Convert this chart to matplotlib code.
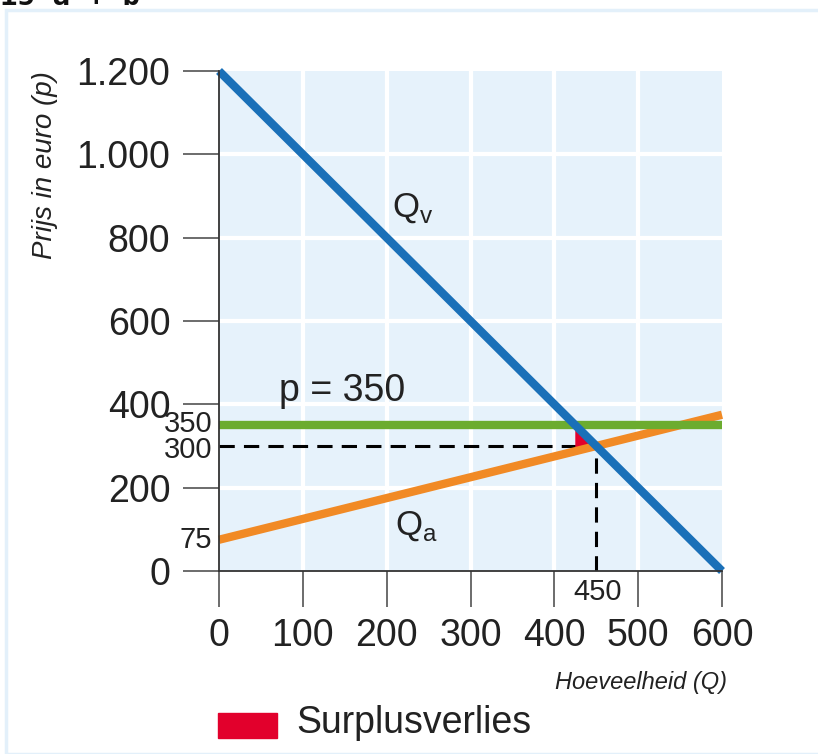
import matplotlib.pyplot as plt
from matplotlib.patches import Rectangle, Polygon

plt.rcParams['font.family'] = ['Liberation Sans', 'DejaVu Sans']

# data
q_ticks = [0, 100, 200, 300, 400, 500, 600]
p_ticks = [0, 200, 400, 600, 800, 1000, 1200]
p_tick_labels = ['0', '200', '400', '600', '800', '1.000', '1.200']

demand_q = [0, 600]
demand_p = [1200, 0]
supply_q = [0, 600]
supply_p = [75, 375]
price_floor = 350
eq_q, eq_p = 450, 300
loss_q = [425, 425, 450]
loss_p = [350, 287.5, 300]

BLUE = '#1a70b8'
GREEN = '#6cac2f'
ORANGE = '#f18a25'
RED = '#e2002c'
TXT = '#222222'

fig = plt.figure(figsize=(8.18, 7.54), dpi=100)
fig.patches.append(Rectangle((6 / 818, 0), 1, 1 - 10 / 754, transform=fig.transFigure,
                             fill=False, edgecolor='#e3f0fa', linewidth=2.5))
fig.text(0.0, 1 - 5 / 754, '15 a + b', fontsize=21, fontweight='bold',
         family='DejaVu Sans Mono', va='baseline', ha='left', color='#111111')

ax = fig.add_axes([219 / 818, 1 - 571 / 754, 503 / 818, 500 / 754])
ax.set_facecolor('#e6f2fb')
ax.set_xlim(0, 600)
ax.set_ylim(0, 1200)

for q in q_ticks[1:-1]:
    ax.axvline(q, color='white', lw=3, zorder=1)
for p in p_ticks[1:-1]:
    ax.axhline(p, color='white', lw=3, zorder=1)

ax.add_patch(Polygon(list(zip(loss_q, loss_p)), closed=True, color=RED, lw=0, zorder=3))

ax.plot([0, eq_q], [eq_p, eq_p], color='black', lw=2.2, dashes=(5, 3), zorder=2)
ax.plot([eq_q, eq_q], [0, eq_p], color='black', lw=2.2, dashes=(5, 3), zorder=2)

ax.plot(supply_q, supply_p, color=ORANGE, lw=6, solid_capstyle='butt', clip_on=False, zorder=4)
ax.axhline(price_floor, color=GREEN, lw=6, zorder=5)
ax.plot(demand_q, demand_p, color=BLUE, lw=6, solid_capstyle='butt', clip_on=False, zorder=6)

for s in ['top', 'right']:
    ax.spines[s].set_visible(False)
for s in ['left', 'bottom']:
    ax.spines[s].set_color('#333333')
    ax.spines[s].set_linewidth(1.3)
    ax.spines[s].set_zorder(7)

ax.set_xticks(q_ticks)
ax.set_yticks(p_ticks, p_tick_labels)
ax.tick_params(length=26, width=1.1, color='#444444', labelsize=27,
               labelcolor=TXT, pad=9)
ax.tick_params(axis='x', pad=8)

# extra value labels
for val, lbl, dy in [(350, '350', 1), (300, '300', -3), (75, '75', 0)]:
    ax.annotate(lbl, (0, val), xytext=(-5, dy), textcoords='offset points',
                ha='right', va='center', fontsize=21, color=TXT, annotation_clip=False)
ax.annotate('450', (eq_q, 0), xytext=(1, -15), textcoords='offset points',
            ha='center', va='center', fontsize=21, color=TXT, annotation_clip=False)

ax.text(206, 850, r'Q$_\mathregular{v}$', fontsize=25, color=TXT, ha='left', va='baseline')
ax.text(210, 86, r'Q$_\mathregular{a}$', fontsize=25, color=TXT, ha='left', va='baseline')
ax.text(147, 432, 'p = 350', fontsize=27, color=TXT, ha='center', va='center')

fig.text(45 / 818, 1 - 165 / 754, 'Prijs in euro (p)', rotation=90, fontsize=20,
         style='italic', color=TXT, ha='center', va='center')
fig.text(727 / 818, 1 - 683 / 754, 'Hoeveelheid (Q)', fontsize=17,
         style='italic', color=TXT, ha='right', va='center')

fig.patches.append(Rectangle((218 / 818, 1 - 738 / 754), 59 / 818, 25 / 754,
                             transform=fig.transFigure, color=RED))
fig.text(296 / 818, 1 - 723 / 754, 'Surplusverlies', fontsize=27, color=TXT,
         ha='left', va='center')

fig.savefig('out.png', dpi=100)
